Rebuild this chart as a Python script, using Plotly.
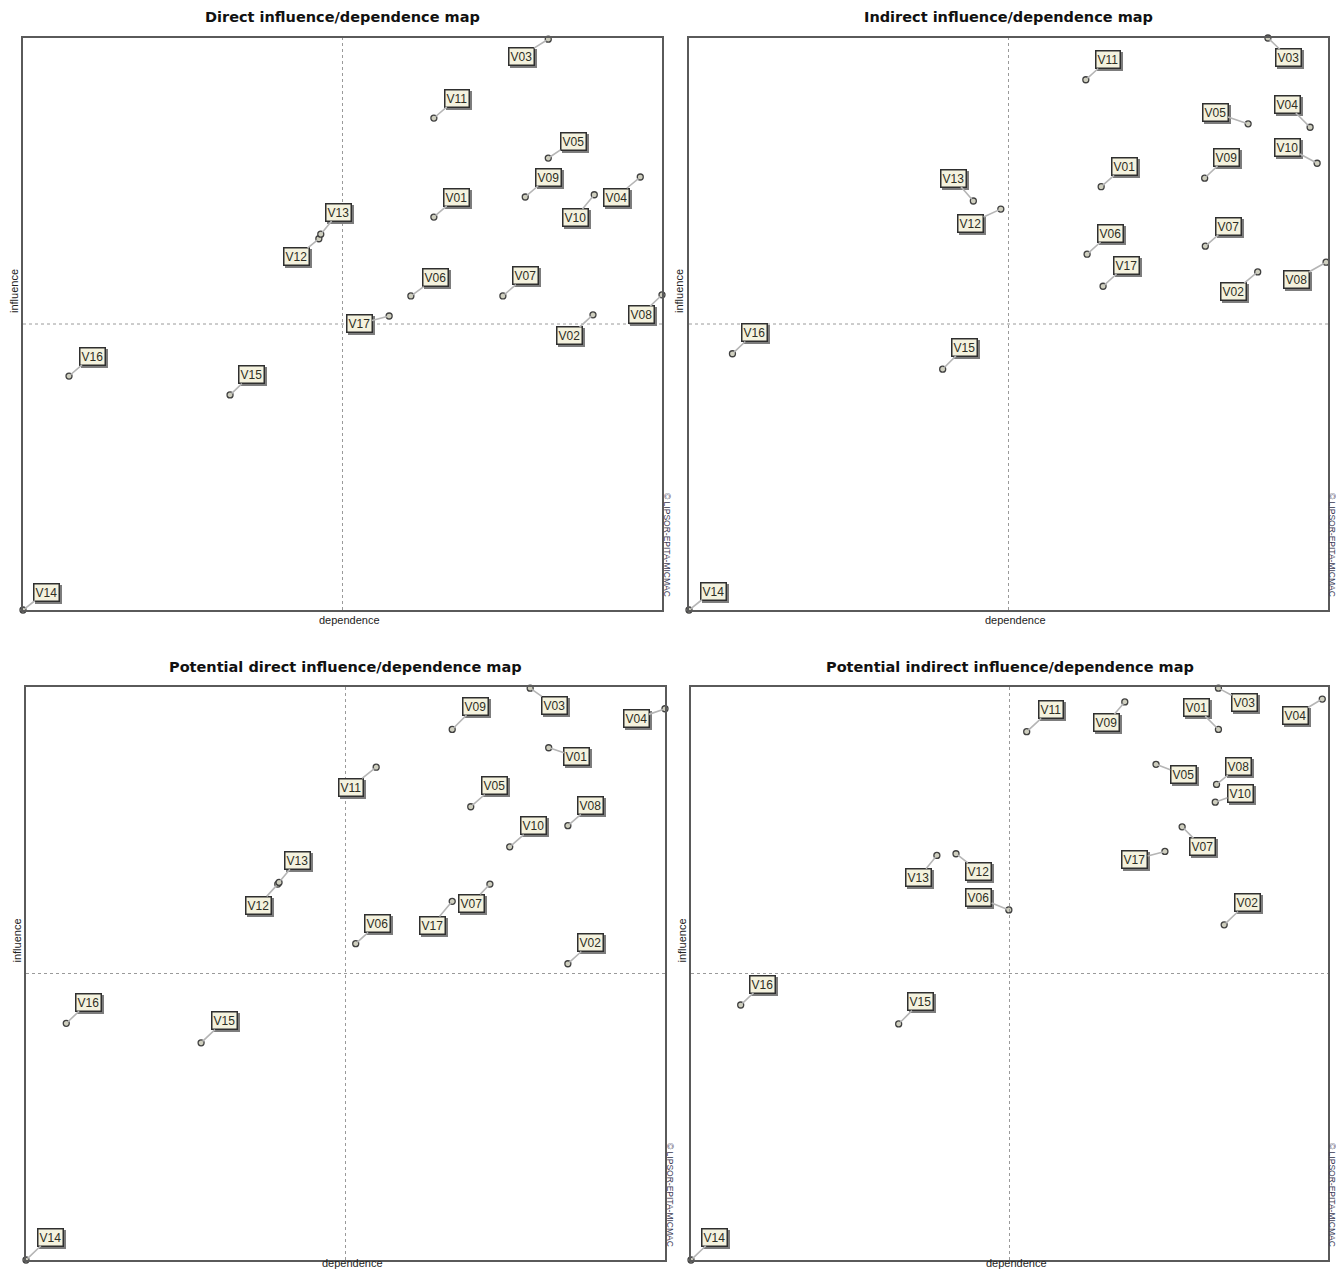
import plotly.graph_objects as go

# page is offset by the 8px body margin; work in page pixels and convert
OFF = 8
W, H = 1328, 1262

variables = ["V01", "V02", "V03", "V04", "V05", "V06", "V07", "V08", "V09",
             "V10", "V11", "V12", "V13", "V14", "V15", "V16", "V17"]

# dependence (x) / influence (y) (scale 0-100 of each map)
direct_dep = [64.3, 89.2, 82.2, 96.6, 82.2, 60.7, 75.1, 100.0, 78.6, 89.4, 64.3, 46.3, 46.6, 0.0, 32.4, 7.2, 57.3]
direct_inf = [68.7, 51.6, 99.8, 75.7, 79.0, 54.9, 54.9, 55.1, 72.2, 72.6, 86.0, 64.9, 65.7, 0.0, 37.6, 40.9, 51.4]

indirect_dep = [64.5, 89.0, 90.6, 97.2, 87.5, 62.3, 80.8, 99.7, 80.7, 98.3, 62.1, 48.8, 44.5, 0.0, 39.7, 6.8, 64.8]
indirect_inf = [74.0, 59.1, 100.0, 84.4, 85.0, 62.2, 63.6, 60.8, 75.5, 78.1, 92.7, 70.1, 71.5, 0.0, 42.1, 44.8, 56.6]

pot_direct_dep = [81.8, 84.8, 78.9, 100.0, 69.6, 51.6, 72.6, 84.8, 66.7, 75.7, 54.8, 39.4, 39.6, 0.0, 27.4, 6.3, 66.7]
pot_direct_inf = [89.4, 51.7, 99.8, 96.2, 79.1, 55.2, 65.6, 75.8, 92.6, 72.1, 86.0, 65.6, 65.9, 0.0, 37.9, 41.3, 62.6]

pot_indirect_dep = [82.8, 83.7, 82.8, 99.1, 73.0, 49.9, 77.1, 82.5, 68.1, 82.3, 52.7, 41.6, 38.6, 0.0, 32.6, 7.8, 74.4]
pot_indirect_inf = [92.6, 58.5, 99.8, 97.9, 86.5, 61.1, 75.6, 83.0, 97.4, 79.9, 92.2, 70.9, 70.6, 0.0, 41.2, 44.5, 71.3]

titles = ["Direct influence/dependence map",
          "Indirect influence/dependence map",
          "Potential direct influence/dependence map",
          "Potential indirect influence/dependence map"]

# label offsets in pixels (dx, dy; dy positive = downward)
offsets = [
    [(23, -20), (-23, 21), (-27, 17), (-24, 20), (25, -17), (25, -18), (23, -20), (-21, 20), (23, -20),
     (-19, 23), (23, -20), (-22, 18), (18, -22), (23, -18), (21, -20), (23, -20), (-30, 8)],
    [(23, -20), (-24, 20), (21, 20), (-23, -23), (-33, -11), (23, -21), (23, -20), (-30, 17), (22, -21),
     (-30, -16), (22, -20), (-30, 14), (-20, -23), (24, -19), (22, -22), (22, -21), (23, -21)],
    [(28, 9), (23, -21), (24, 17), (-29, 10), (24, -21), (22, -20), (-18, 19), (23, -20), (23, -23),
     (24, -21), (-25, 20), (-19, 21), (18, -22), (24, -23), (23, -22), (22, -21), (-20, 24)],
    [(-22, -22), (23, -22), (26, 14), (-27, 16), (27, 10), (-30, -12), (20, 20), (22, -18), (-18, 21),
     (25, -9), (24, -22), (23, 18), (-18, 22), (24, -23), (22, -22), (22, -21), (-30, 8)],
]

# plot frames in page pixels: (left, right, top, bottom)
frames = [(23, 662, 38, 610), (689, 1328, 38, 610), (26, 665, 687, 1260), (691, 1328, 687, 1260)]

datasets = [(direct_dep, direct_inf), (indirect_dep, indirect_inf),
            (pot_direct_dep, pot_direct_inf), (pot_indirect_dep, pot_indirect_inf)]


def px(xp):
    return (xp - OFF) / W


def py(yp):
    return 1 - (yp - OFF) / H


fig = go.Figure()
annotations = []
shapes = []
FONT = "Liberation Sans"
TFONT = "DejaVu Sans"

for i, ((xs, ys), (l, r, t, b)) in enumerate(zip(datasets, frames)):
    n = i + 1
    xa = "x" if n == 1 else f"x{n}"
    ya = "y" if n == 1 else f"y{n}"
    xkey = "xaxis" if n == 1 else f"xaxis{n}"
    ykey = "yaxis" if n == 1 else f"yaxis{n}"
    fig.update_layout(**{
        xkey: dict(domain=[px(l), min(px(r), 1)], range=[0, 100], showgrid=False, zeroline=False,
                   showticklabels=False, ticks="", showline=True, linecolor="#5a5a5a",
                   linewidth=2, mirror=True, anchor=ya, fixedrange=True),
        ykey: dict(domain=[py(b), py(t)], range=[0, 100], showgrid=False, zeroline=False,
                   showticklabels=False, ticks="", showline=True, linecolor="#5a5a5a",
                   linewidth=2, mirror=True, anchor=xa, fixedrange=True),
    })
    # center dashed lines
    shapes.append(dict(type="line", xref=xa, yref=ya, x0=50, x1=50, y0=0, y1=100,
                       line=dict(color="#9a9a9a", width=1, dash="dot")))
    shapes.append(dict(type="line", xref=xa, yref=ya, x0=0, x1=100, y0=50, y1=50,
                       line=dict(color="#9a9a9a", width=1, dash="dot")))
    fig.add_trace(go.Scatter(x=xs, y=ys, mode="markers", xaxis=xa, yaxis=ya,
                             marker=dict(size=6, color="#cfcfbf", line=dict(color="#404040", width=1.3)),
                             cliponaxis=False, hoverinfo="text", text=variables, showlegend=False))
    for k, name in enumerate(variables):
        dx, dy = offsets[i][k]
        # shadow
        annotations.append(dict(x=xs[k], y=ys[k], xref=xa, yref=ya, text=name, showarrow=False,
                                xshift=dx + 2, yshift=-(dy + 2),
                                font=dict(family=FONT, size=12, color="#7d7d7d"),
                                bgcolor="#7d7d7d", bordercolor="#7d7d7d", borderwidth=1.5, borderpad=1))
        annotations.append(dict(x=xs[k], y=ys[k], xref=xa, yref=ya, text=name, showarrow=True,
                                ax=dx, ay=dy, axref="pixel", ayref="pixel",
                                arrowhead=0, arrowwidth=1.6, arrowcolor="#b5b5b5", standoff=2,
                                font=dict(family=FONT, size=12, color="#2e2e24"),
                                bgcolor="#f4f2de", bordercolor="#2f2f2f", borderwidth=1.5, borderpad=1))
    cx = (l + r) / 2
    # title
    annotations.append(dict(x=px(cx), y=py(17 if i < 2 else 667), xref="paper", yref="paper",
                            text=f"<b>{titles[i]}</b>", showarrow=False,
                            font=dict(family=TFONT, size=14.5, color="#111111"),
                            xanchor="center", yanchor="middle"))
    # axis labels
    if i < 2:
        annotations.append(dict(x=px(cx + 7), y=py(b + 10), xref="paper", yref="paper",
                                text="dependence", showarrow=False,
                                font=dict(family=FONT, size=11, color="#222222"),
                                xanchor="center", yanchor="middle"))
    else:
        annotations.append(dict(x=px(cx + 7), y=0, xref="paper", yref="paper",
                                text="dependence", showarrow=False, borderpad=0,
                                font=dict(family=FONT, size=11, color="#222222"),
                                xanchor="center", yanchor="bottom"))
    annotations.append(dict(x=px(max(l - 10, 14)), y=py((t + b) / 2 - 33), xref="paper", yref="paper",
                            text="influence", showarrow=False, textangle=-90,
                            font=dict(family=FONT, size=11, color="#222222"),
                            xanchor="center", yanchor="middle"))
    # watermark
    annotations.append(dict(x=px(min(r + 5, 1332)), y=py(b - 65), xref="paper", yref="paper",
                            text="© LIPSOR-EPITA-MICMAC", showarrow=False, textangle=90,
                            font=dict(family=FONT, size=8.5, color="#3a3a55"),
                            xanchor="center", yanchor="middle"))

fig.update_layout(width=W, height=H, margin=dict(l=0, r=0, t=0, b=0),
                  paper_bgcolor="white", plot_bgcolor="white",
                  shapes=shapes, annotations=annotations, showlegend=False)

fig.write_html("out.html")
